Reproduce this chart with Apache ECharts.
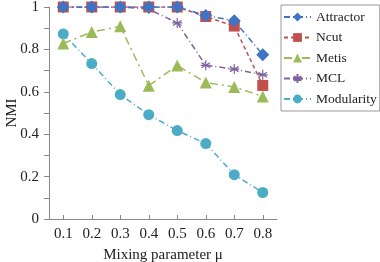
<!DOCTYPE html>
<html><head><meta charset="utf-8">
<script src="https://cdn.jsdelivr.net/npm/echarts@6/dist/echarts.min.js"></script>
<style>html,body{margin:0;padding:0;background:#fff}#c{width:380px;height:262px}</style>
</head><body><div id="c"></div>
<script>
var categories = ['0.1','0.2','0.3','0.4','0.5','0.6','0.7','0.8'];
var attractor = [1,1,1,1,1,0.96,0.935,0.775];
var ncut = [1,1,1,1,1,0.955,0.91,0.63];
var metis = [0.828,0.882,0.909,0.629,0.724,0.644,0.623,0.578];
var mcl = [1,1,1,0.99,0.925,0.725,0.707,0.68];
var modularity = [0.873,0.733,0.587,0.492,0.417,0.356,0.209,0.125];
var font = 'Liberation Serif';
var chart = echarts.init(document.getElementById('c'));
function s(name, data, color, symbol, size, dash, extra){
  var o = {name:name,type:'line',data:data,symbol:symbol,symbolSize:size,
    lineStyle:{color:color,width:1.5,type:dash},itemStyle:{color:color},z:2};
  if(extra){for(var k in extra)o[k]=extra[k];}
  return o;
}
chart.setOption({
  animation:false,
  backgroundColor:'#fff',
  grid:{left:49,right:103,top:7,bottom:43,outerBoundsMode:'none',containLabel:false},
  legend:{orient:'vertical',left:281,top:5,padding:[5,3,5,2],
    borderColor:'#999',borderWidth:1,itemGap:6.5,itemWidth:27,itemHeight:11,
    textStyle:{fontFamily:font,fontSize:13.5,color:'#222'},
    data:['Attractor','Ncut','Metis','MCL','Modularity']},
  xAxis:{type:'category',data:categories,boundaryGap:true,
    name:'Mixing parameter μ',nameLocation:'middle',nameGap:29,nameMoveOverlap:false,
    nameTextStyle:{fontFamily:font,fontSize:15,color:'#222'},
    axisLine:{lineStyle:{color:'#888'}},
    axisTick:{show:true,alignWithLabel:true,inside:true,length:4,lineStyle:{color:'#888'}},
    axisLabel:{fontFamily:font,fontSize:15,color:'#222',margin:8}},
  yAxis:{type:'value',min:0,max:1,interval:0.2,
    name:'NMI',nameLocation:'middle',nameGap:29,nameMoveOverlap:false,
    nameTextStyle:{fontFamily:font,fontSize:15,color:'#222'},
    axisLine:{show:true,lineStyle:{color:'#888'}},
    axisTick:{show:true,length:5,lineStyle:{color:'#888'}},
    minorTick:{show:true,splitNumber:2,length:5,lineStyle:{color:'#888'}},
    splitLine:{show:false},
    axisLabel:{fontFamily:font,fontSize:15,color:'#222',margin:10,
      formatter:function(v){return String(+v.toFixed(1));}}},
  series:[
    s('Modularity',modularity,'#4BACC6','circle',11,[6,3,1,3]),
    s('MCL',mcl,'#8064A2','path://M0,-5L0,5M-4.33,-2.5L4.33,2.5M-4.33,2.5L4.33,-2.5M-5,0L5,0',10,[6,3,1,3],
      {itemStyle:{color:'none',borderColor:'#8064A2',borderWidth:1.2}}),
    s('Metis',metis,'#9BBB59','triangle',12,[8,4,2,4]),
    s('Ncut',ncut,'#C0504D','rect',11,[4,3]),
    s('Attractor',attractor,'#3E74C4','diamond',13,[6,3,1,3])
  ]
});
</script></body></html>
